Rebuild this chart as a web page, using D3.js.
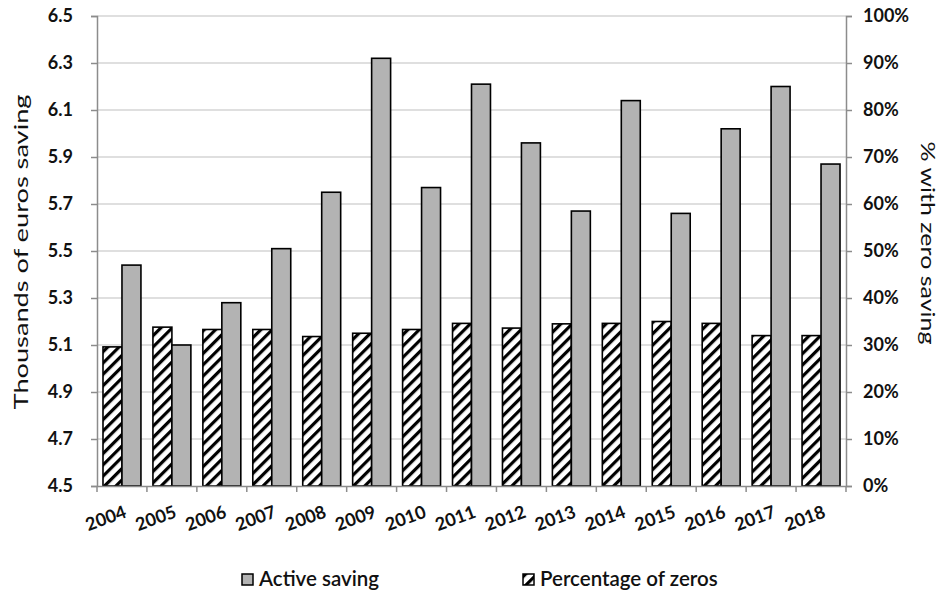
<!DOCTYPE html>
<html><head><meta charset="utf-8">
<script src="https://cdn.jsdelivr.net/npm/d3@7"></script>
<style>body{margin:0;background:#fff}svg{display:block}text{font-family:Lato,"Open Sans",sans-serif;fill:#111}</style>
</head><body><svg id="c" width="941" height="594"></svg>
<script>
const years = ["2004","2005","2006","2007","2008","2009","2010","2011","2012","2013","2014","2015","2016","2017","2018"];
const activeSaving = [5.44,5.10,5.28,5.51,5.75,6.32,5.77,6.21,5.96,5.67,6.14,5.66,6.02,6.20,5.87];
const pctZeros = [0.296,0.338,0.333,0.333,0.318,0.325,0.333,0.346,0.336,0.345,0.346,0.350,0.346,0.320,0.320];
const leftTicks = [4.5,4.7,4.9,5.1,5.3,5.5,5.7,5.9,6.1,6.3,6.5];
const rightTicks = [0,0.1,0.2,0.3,0.4,0.5,0.6,0.7,0.8,0.9,1.0];
const seriesNames = ["Active saving","Percentage of zeros"];

const svg = d3.select("#c");
const L = 97, R = 846, T = 16, B = 486;
const defs = svg.append("defs");
const pat = defs.append("pattern").attr("id","hatch").attr("patternUnits","userSpaceOnUse")
  .attr("width",8).attr("height",8).attr("patternTransform","rotate(45)");
pat.append("rect").attr("width",8).attr("height",8).attr("fill","#fff");
pat.append("rect").attr("x",0).attr("width",3.2).attr("height",8).attr("fill","#000");

const x = d3.scaleBand().domain(years).range([L,R]).paddingInner(0.24).paddingOuter(0.12);
const xs = d3.scaleBand().domain(["z","a"]).range([0,x.bandwidth()]);
const yL = d3.scaleLinear().domain([4.5,6.5]).range([B,T]);
const yR = d3.scaleLinear().domain([0,1]).range([B,T]);

// gridlines
svg.append("g").selectAll("line").data(leftTicks.slice(1)).join("line")
  .attr("x1",L).attr("x2",R).attr("y1",d=>yL(d)).attr("y2",d=>yL(d))
  .attr("stroke","#d4d4d4").attr("stroke-width",1.5);

// bars
const g = svg.append("g");
g.selectAll(".z").data(years).join("rect")
  .attr("x",d=>x(d)+xs("z")).attr("width",xs.bandwidth())
  .attr("y",(d,i)=>yR(pctZeros[i])).attr("height",(d,i)=>B-yR(pctZeros[i]))
  .attr("fill","url(#hatch)").attr("stroke","#000").attr("stroke-width",1.6);
g.selectAll(".a").data(years).join("rect")
  .attr("x",d=>x(d)+xs("a")).attr("width",xs.bandwidth())
  .attr("y",(d,i)=>yL(activeSaving[i])).attr("height",(d,i)=>B-yL(activeSaving[i]))
  .attr("fill","#b3b3b3").attr("stroke","#000").attr("stroke-width",1.6);

// axes
const axL = svg.append("g").attr("transform",`translate(${L},0)`)
  .call(d3.axisLeft(yL).tickValues(leftTicks).tickFormat(d3.format(".1f")).tickSize(6).tickPadding(18));
const axR = svg.append("g").attr("transform",`translate(${R},0)`)
  .call(d3.axisRight(yR).tickValues(rightTicks).tickFormat(d3.format(".0%")).tickSize(6).tickPadding(11));
[axL,axR].forEach(a=>{
  a.select(".domain").attr("stroke","#8c8c8c").attr("stroke-width",1.5);
  a.selectAll(".tick line").attr("stroke","#8c8c8c").attr("stroke-width",1.5);
  a.selectAll(".tick text").attr("font-size",18).attr("font-weight","bold").attr("fill","#111")
   .style("font-family","Lato,'Open Sans',sans-serif");
});
// bottom axis
const axB = svg.append("g").attr("transform",`translate(0,${B})`)
  .call(d3.axisBottom(x).tickSize(0).tickPadding(0));
axB.select(".domain").attr("stroke","#8c8c8c").attr("stroke-width",1.5);
axB.selectAll(".tick line").remove();
axB.selectAll(".tick text").attr("font-size",18).attr("font-weight","bold").attr("fill","#111")
  .style("font-family","Lato,'Open Sans',sans-serif")
  .attr("text-anchor","middle").attr("dy",0)
  .attr("transform","translate(-14,38) rotate(-20)");
const step = x.step();
svg.append("g").selectAll("line").data(d3.range(years.length+1)).join("line")
  .attr("x1",i=>L+i*step).attr("x2",i=>L+i*step).attr("y1",B).attr("y2",B+6)
  .attr("stroke","#8c8c8c").attr("stroke-width",1.5);

// axis titles
svg.append("text").attr("transform",`translate(28,252) rotate(-90) scale(1.36,1)`)
  .attr("text-anchor","middle").attr("font-size",20).text("Thousands of euros saving");
svg.append("text").attr("transform",`translate(921,243) rotate(90) scale(1.25,1)`)
  .attr("text-anchor","middle").attr("font-size",20).text("% with zero saving");

// legend
const leg = [{x:242},{x:523}];
leg.forEach((l,i)=>{
  svg.append("rect").attr("x",l.x).attr("y",574).attr("width",11).attr("height",11)
    .attr("fill",i===0?"#b3b3b3":"url(#hatch)").attr("stroke","#000").attr("stroke-width",1.5);
  svg.append("text").attr("x",l.x+17).attr("y",586).attr("font-size",20.5).attr("font-weight","600")
    .text(seriesNames[i]);
});
</script></body></html>
